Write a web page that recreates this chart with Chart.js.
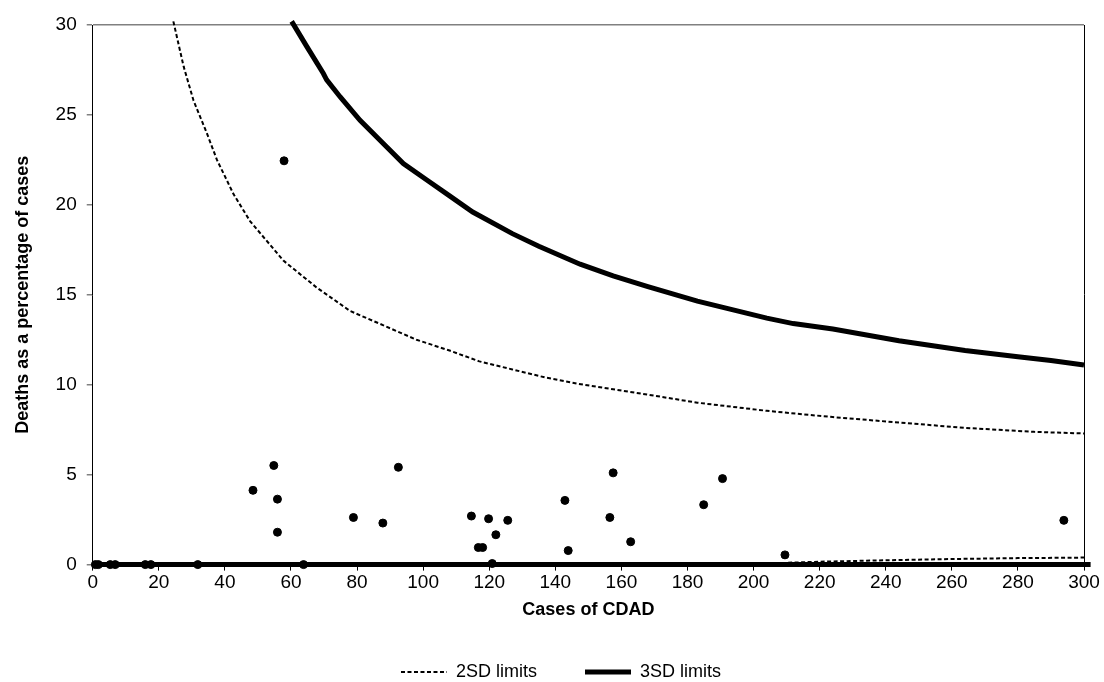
<!DOCTYPE html>
<html>
<head>
<meta charset="utf-8">
<script src="https://cdn.jsdelivr.net/npm/chart.js@4.4.1/dist/chart.umd.min.js"></script>
<style>
  html, body { margin: 0; padding: 0; background: #fff; }
</style>
</head>
<body>
<canvas id="funnel" width="1104" height="682"></canvas>
<script>
// observed hospitals: cases of CDAD vs deaths as % of cases
const casesOfCdad = [0.8, 1.7, 5.3, 6.8, 15.9, 17.6, 31.8, 63.8,
  48.5, 54.8, 55.9, 55.9, 57.9, 78.9, 87.8, 92.5, 114.6, 116.7, 118.0, 119.8,
  120.9, 122.0, 125.6, 142.9, 143.9, 156.5, 157.5, 162.8, 184.9, 190.6, 209.5, 293.9];
const deathPercent = [0, 0, 0, 0, 0, 0, 0, 0,
  4.13, 5.51, 3.64, 1.80, 22.45, 2.62, 2.31, 5.41, 2.70, 0.95, 0.95, 2.55,
  0.06, 1.66, 2.46, 3.57, 0.78, 2.62, 5.10, 1.27, 3.33, 4.78, 0.54, 2.46];

// control limits
const sd2UpperCases = [24.4, 27.5, 30.5, 34.5, 37.6, 42.6, 47.6, 57.7, 67.8, 77.9, 88, 98, 108,
  117, 127, 137, 147, 157.5, 168, 183, 204, 224, 244, 264, 285, 300, 302];
const sd2UpperValues = [30.2, 27.7, 25.8, 24.0, 22.5, 20.6, 19.1, 16.9, 15.4, 14.1, 13.3, 12.5, 11.9,
  11.3, 10.85, 10.4, 10.05, 9.75, 9.45, 9.0, 8.55, 8.2, 7.9, 7.6, 7.38, 7.29, 7.27];
const sd2LowerCases = [0, 205, 210, 220, 240, 260, 280, 300, 302];
const sd2LowerValues = [0, 0, 0.1, 0.16, 0.24, 0.31, 0.36, 0.39, 0.39];

const sd3UpperCases = [60.2, 64.8, 69.8, 70.8, 74.9, 80.9, 88, 94, 101, 108, 115, 127, 135,
  147.5, 157.5, 168, 183, 204, 212, 224, 244, 264, 280, 290, 300, 302];
const sd3UpperValues = [30.2, 28.8, 27.3, 26.95, 26.0, 24.7, 23.4, 22.3, 21.4, 20.5, 19.6, 18.4, 17.7,
  16.7, 16.05, 15.45, 14.65, 13.7, 13.4, 13.1, 12.45, 11.9, 11.55, 11.35, 11.1, 11.07];
const sd3LowerCases = [0, 302];
const sd3LowerValues = [0, 0];

const xTickValues = [0, 20, 40, 60, 80, 100, 120, 140, 160, 180, 200, 220, 240, 260, 280, 300];
const yTickValues = [0, 5, 10, 15, 20, 25, 30];

const pairs = (xs, ys) => xs.map((x, i) => ({ x: x, y: ys[i] }));
const FONT = 'Liberation Sans, Arial, sans-serif';

const canvas = document.getElementById('funnel');

new Chart(canvas, {
    type: 'scatter',
    data: {
        datasets: [{
            label: 'Hospitals',
            data: pairs(casesOfCdad, deathPercent),
            backgroundColor: '#000',
            borderColor: '#000',
            pointRadius: 4,
            pointHoverRadius: 4,
            showLine: false,
            clip: false,
            order: 0
        }, {
            label: '2SD limits',
            data: pairs(sd2UpperCases, sd2UpperValues),
            showLine: true,
            borderColor: '#000',
            borderWidth: 2,
            borderDash: [4, 2.5],
            pointRadius: 0,
            tension: 0,
            clip: { left: 0, top: 6, right: 10, bottom: 0 },
            order: 2
        }, {
            label: '3SD limits',
            data: pairs(sd3UpperCases, sd3UpperValues),
            showLine: true,
            borderColor: '#000',
            borderWidth: 5,
            pointRadius: 0,
            tension: 0,
            clip: { left: 0, top: 6, right: 10, bottom: 0 },
            order: 2
        }, {
            label: '',
            data: pairs(sd2LowerCases, sd2LowerValues),
            showLine: true,
            borderColor: '#000',
            borderWidth: 2,
            borderDash: [4, 2.5],
            pointRadius: 0,
            tension: 0,
            clip: { left: 0, top: 6, right: 10, bottom: 4 },
            order: 2
        }, {
            label: '',
            data: pairs(sd3LowerCases, sd3LowerValues),
            showLine: true,
            borderColor: '#000',
            borderWidth: 5,
            pointRadius: 0,
            tension: 0,
            clip: { left: 0, top: 6, right: 10, bottom: 4 },
            order: 1
        }]
    },
    options: {
        responsive: false,
        animation: false,
        devicePixelRatio: 1,
        layout: { padding: { top: 25, right: 20, bottom: -9, left: 38 } },
        plugins: {
            tooltip: { enabled: false },
            legend: {
                position: 'bottom',
                labels: {
                    usePointStyle: true,
                    pointStyle: 'line',
                    pointStyleWidth: 46,
                    padding: 48,
                    color: '#000',
                    font: { family: FONT, size: 18 },
                    // only the upper limit lines get an entry, drawn with their own width and dash
                    generateLabels: chart => Chart.defaults.plugins.legend.labels.generateLabels(chart)
                        .filter(item => item.text !== '' && item.text !== 'Hospitals')
                        .map(item => {
                            const ds = chart.data.datasets[item.datasetIndex];
                            item.lineWidth = ds.borderWidth;
                            item.lineDash = ds.borderDash || [];
                            item.strokeStyle = '#000';
                            return item;
                        })
                }
            }
        },
        scales: {
            x: {
                type: 'linear',
                min: 0,
                max: 300,
                afterBuildTicks: axis => { axis.ticks = xTickValues.map(v => ({ value: v })); },
                ticks: { color: '#000', font: { family: FONT, size: 19 }, padding: 1, maxRotation: 0 },
                grid: {
                    color: ctx => ctx.tick && ctx.tick.value === 300 ? '#000' : 'rgba(0,0,0,0)',
                    tickColor: '#000',
                    tickLength: 6,
                    lineWidth: 1
                },
                border: { color: '#000', width: 1 },
                title: {
                    display: true,
                    text: 'Cases of CDAD',
                    color: '#000',
                    font: { family: FONT, size: 18, weight: 'bold' },
                    padding: { top: 4, bottom: -6 }
                }
            },
            y: {
                type: 'linear',
                min: 0,
                max: 30,
                afterBuildTicks: axis => { axis.ticks = yTickValues.map(v => ({ value: v })); },
                ticks: { color: '#000', font: { family: FONT, size: 19 }, padding: 10 },
                grid: {
                    color: ctx => ctx.tick && ctx.tick.value === 30 ? '#808080' : 'rgba(0,0,0,0)',
                    tickColor: '#808080',
                    tickLength: 6,
                    lineWidth: 1.5
                },
                border: { color: '#000', width: 1 },
                title: {
                    display: true,
                    text: 'Deaths as a percentage of cases',
                    color: '#000',
                    font: { family: FONT, size: 18, weight: 'bold' },
                    padding: { top: -26, bottom: 12 }
                }
            }
        }
    }
});
</script>
</body>
</html>
